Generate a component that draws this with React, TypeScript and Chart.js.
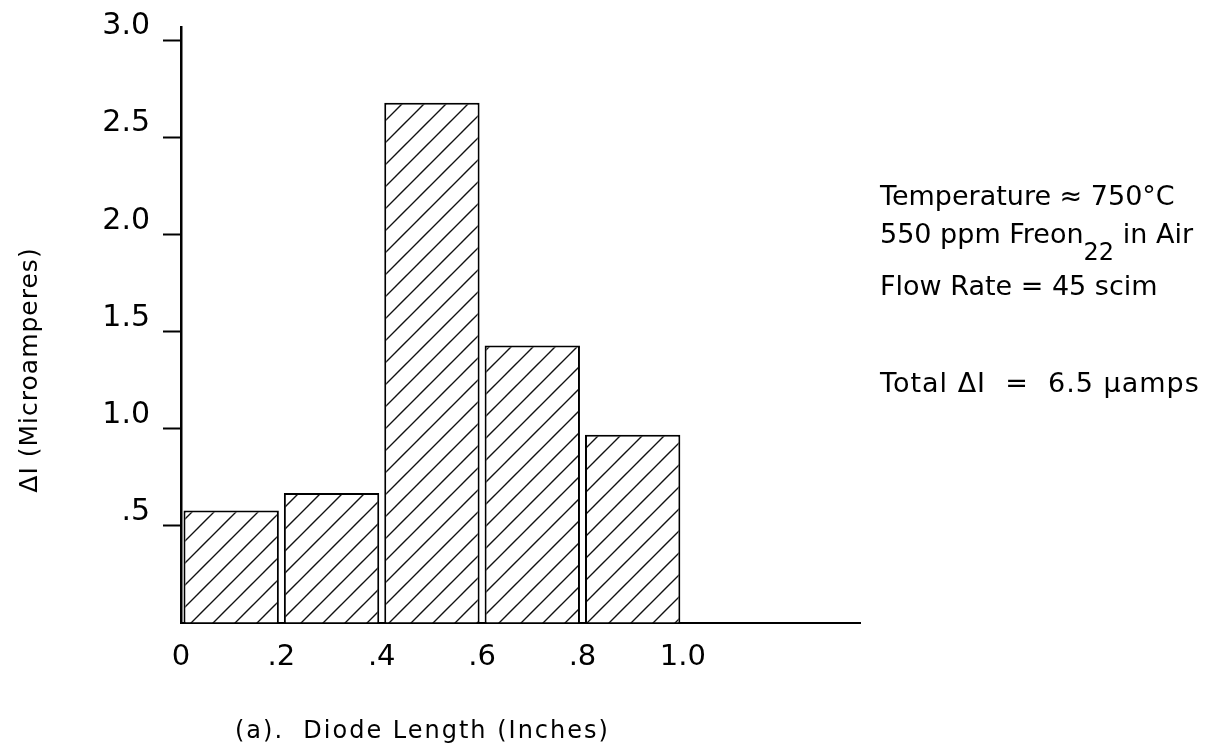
import React, { useEffect, useRef } from "react";
import { Chart, registerables } from "chart.js";

Chart.register(...registerables);

// ---- data ----
const binCenters = [0.1, 0.3, 0.5, 0.7, 0.9];
const deltaI = [0.58, 0.67, 2.68, 1.43, 0.97];
const yTickValues = [0.5, 1.0, 1.5, 2.0, 2.5, 3.0];
const yTickLabels = [".5", "1.0", "1.5", "2.0", "2.5", "3.0"];
const xTickValues = [0, 0.2, 0.4, 0.6, 0.8, 1.0];
const xTickLabels = ["0", ".2", ".4", ".6", ".8", "1.0"];
const yTitle = "\u0394I (Microamperes)";
const xTitle = "(a).  Diode Length (Inches)";
const noteLine1 = "Temperature \u2248 750\u00B0C";
const noteLine2a = "550 ppm Freon";
const noteLine2sub = "22";
const noteLine2b = " in Air";
const noteLine3 = "Flow Rate = 45 scim";
const noteLine4 = "Total \u0394I  =  6.5 \u03BCamps";

const FONT = '"DejaVu Sans", sans-serif';

function lookup(values: number[], labels: string[], v: number): string {
  for (let i = 0; i < values.length; i++) {
    if (Math.abs(values[i] - v) < 1e-6) return labels[i];
  }
  return "";
}

function makeHatch(): CanvasPattern | string {
  const size = 22;
  const c = document.createElement("canvas");
  c.width = size;
  c.height = size;
  const g = c.getContext("2d");
  if (!g) return "#fff";
  g.fillStyle = "#fff";
  g.fillRect(0, 0, size, size);
  g.strokeStyle = "#111";
  g.lineWidth = 1.4;
  g.beginPath();
  g.moveTo(-2, size + 2);
  g.lineTo(size + 2, -2);
  g.moveTo(-2, 2);
  g.lineTo(2, -2);
  g.moveTo(size - 2, size + 2);
  g.lineTo(size + 2, size - 2);
  g.stroke();
  const p = g.createPattern(c, "repeat");
  return p || "#fff";
}

const textPlugin = {
  id: "textNotes",
  afterDraw(chart: any) {
    const ctx = chart.ctx as CanvasRenderingContext2D;
    ctx.save();
    ctx.fillStyle = "#000";
    ctx.textAlign = "left";
    ctx.textBaseline = "alphabetic";
    ctx.font = `27px ${FONT}`;
    ctx.fillText(noteLine1, 880, 205);
    ctx.fillText(noteLine2a, 880, 243);
    const w = ctx.measureText(noteLine2a).width;
    ctx.font = `24px ${FONT}`;
    ctx.fillText(noteLine2sub, 880 + w, 260);
    const ws = ctx.measureText(noteLine2sub).width;
    ctx.font = `27px ${FONT}`;
    ctx.fillText(noteLine2b, 880 + w + ws, 243);
    ctx.fillText(noteLine3, 880, 295);
    (ctx as any).letterSpacing = "1px";
    ctx.fillText(noteLine4, 880, 392);

    // axis titles
    (ctx as any).letterSpacing = "2px";
    ctx.font = `24px ${FONT}`;
    ctx.textAlign = "left";
    ctx.textBaseline = "alphabetic";
    ctx.fillText(xTitle, 235, 738);

    (ctx as any).letterSpacing = "1px";
    ctx.font = `25px ${FONT}`;
    ctx.translate(37, 370);
    ctx.rotate(-Math.PI / 2);
    ctx.textAlign = "center";
    ctx.fillText(yTitle, 0, 0);
    ctx.restore();
  },
};

export default function App() {
  const ref = useRef<HTMLCanvasElement | null>(null);

  useEffect(() => {
    if (!ref.current) return;
    const hatch = makeHatch();
    const chart = new Chart(ref.current, {
      type: "bar",
      data: {
        datasets: [
          {
            data: binCenters.map((x, i) => ({ x, y: deltaI[i] })),
            backgroundColor: hatch as any,
            borderColor: "#000",
            borderWidth: 2,
            barPercentage: 0.95,
            categoryPercentage: 1.0,
          },
        ],
      },
      options: {
        animation: false,
        responsive: true,
        maintainAspectRatio: false,
        layout: { padding: { left: 0, top: 27, right: 346, bottom: 0 } },
        plugins: {
          legend: { display: false },
          tooltip: { enabled: false },
        },
        scales: {
          x: {
            type: "linear",
            offset: false,
            min: 0,
            max: 1.353,
            grid: { drawOnChartArea: false, drawTicks: false, offset: false },
            border: { display: true, color: "#000", width: 2 },
            ticks: {
              stepSize: 0.2,
              includeBounds: false,
              autoSkip: false,
              maxRotation: 0,
              padding: 17,
              color: "#000",
              font: { family: FONT, size: 29 },
              callback: (v: any) => lookup(xTickValues, xTickLabels, Number(v)),
            },
            afterFit: (scale: any) => {
              scale.height = 122;
              scale.paddingLeft = 0;
              scale.paddingRight = 0;
            },
          },
          y: {
            type: "linear",
            min: 0,
            max: 3.07,
            grid: {
              drawOnChartArea: false,
              drawTicks: true,
              tickLength: 18,
              tickWidth: 2,
              tickColor: (ctx: any) =>
                ctx.tick && Math.abs(ctx.tick.value) < 1e-6 ? "rgba(0,0,0,0)" : "#000",
            },
            border: { display: true, color: "#000", width: 2.5 },
            ticks: {
              stepSize: 0.5,
              includeBounds: false,
              autoSkip: false,
              padding: 13,
              labelOffset: -14,
              color: "#000",
              font: { family: FONT, size: 30 },
              callback: (v: any) => lookup(yTickValues, yTickLabels, Number(v)),
            },
            afterFit: (scale: any) => {
              scale.width = 181;
              scale.paddingTop = 0;
              scale.paddingBottom = 0;
            },
          },
        },
      },
      plugins: [textPlugin],
    });
    return () => chart.destroy();
  }, []);

  return (
    <div
      style={{
        position: "absolute",
        left: 0,
        top: 0,
        width: 1206,
        height: 745,
        background: "#fff",
      }}
    >
      <canvas ref={ref} />
    </div>
  );
}
